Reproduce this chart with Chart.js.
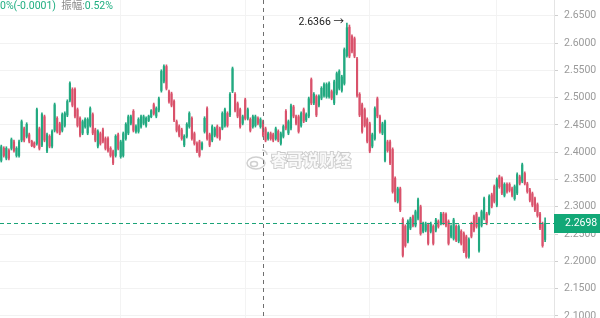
<!DOCTYPE html>
<html>
<head>
<meta charset="utf-8">
<script src="https://cdn.jsdelivr.net/npm/chart.js@4.4.1/dist/chart.umd.min.js"></script>
<style>
  html, body { margin: 0; padding: 0; background: #fff; }
  #wrap { width: 600px; height: 318px; }
</style>
</head>
<body>
<div id="wrap"><canvas id="kline" width="600" height="318"></canvas></div>
<script>
// candles, left to right
const opens = [
  2.385, 2.407, 2.389, 2.403, 2.407, 2.419, 2.394, 2.394, 2.422, 2.443,
  2.429, 2.432, 2.420, 2.417, 2.416, 2.443, 2.413, 2.465, 2.402, 2.429,
  2.411, 2.440, 2.462, 2.452, 2.440, 2.449, 2.468, 2.495, 2.515, 2.515,
  2.478, 2.462, 2.435, 2.447, 2.435, 2.449, 2.469, 2.441, 2.411, 2.434,
  2.441, 2.425, 2.425, 2.407, 2.401, 2.394, 2.432, 2.392, 2.394, 2.425,
  2.435, 2.453, 2.475, 2.438, 2.438, 2.447, 2.453, 2.449, 2.458, 2.465,
  2.487, 2.466, 2.477, 2.513, 2.530, 2.557, 2.511, 2.507, 2.493, 2.456,
  2.447, 2.441, 2.413, 2.429, 2.447, 2.462, 2.434, 2.416, 2.419, 2.407,
  2.438, 2.480, 2.432, 2.422, 2.431, 2.447, 2.443, 2.444, 2.449, 2.471,
  2.468, 2.512, 2.506, 2.489, 2.478, 2.453, 2.496, 2.462, 2.460, 2.447,
  2.449, 2.462, 2.447, 2.456, 2.443, 2.425, 2.434, 2.432, 2.425, 2.438,
  2.416, 2.429, 2.475, 2.435, 2.444, 2.483, 2.465, 2.465, 2.449, 2.478,
  2.459, 2.466, 2.533, 2.490, 2.502, 2.486, 2.499, 2.504, 2.502, 2.502,
  2.511, 2.490, 2.508, 2.517, 2.513, 2.526, 2.577, 2.629, 2.612, 2.608,
  2.571, 2.506, 2.487, 2.478, 2.460, 2.452, 2.411, 2.425, 2.498,
  2.465, 2.435, 2.385, 2.419, 2.419, 2.405, 2.352, 2.310, 2.333, 2.277,
  2.264, 2.237, 2.261, 2.282, 2.266, 2.279, 2.300, 2.255, 2.257, 2.267,
  2.255, 2.264, 2.257, 2.273, 2.270, 2.287, 2.286, 2.273,
  2.246, 2.242, 2.264, 2.237, 2.255, 2.251, 2.245, 2.209, 2.269, 2.282,
  2.287, 2.220, 2.266, 2.279, 2.287, 2.288, 2.322, 2.337, 2.303,
  2.355, 2.352, 2.321, 2.341, 2.341, 2.333, 2.315, 2.325, 2.355,
  2.347, 2.361, 2.342, 2.331, 2.324, 2.315, 2.304, 2.287, 2.269, 2.240
]
const highs = [
  2.413, 2.410, 2.410, 2.406, 2.426, 2.422, 2.410, 2.422, 2.459, 2.446,
  2.454, 2.435, 2.422, 2.419, 2.481, 2.446, 2.472, 2.468, 2.435, 2.432,
  2.441, 2.490, 2.465, 2.455, 2.472, 2.474, 2.496, 2.529, 2.518, 2.518,
  2.481, 2.465, 2.459, 2.463, 2.463, 2.483, 2.472, 2.444, 2.441, 2.437,
  2.444, 2.428, 2.428, 2.410, 2.404, 2.432, 2.435, 2.422, 2.437, 2.454,
  2.468, 2.468, 2.478, 2.450, 2.463, 2.468, 2.468, 2.465, 2.468, 2.478,
  2.490, 2.483, 2.501, 2.551, 2.560, 2.560, 2.514, 2.510, 2.496, 2.459,
  2.450, 2.444, 2.432, 2.454, 2.474, 2.465, 2.437, 2.419, 2.422, 2.419,
  2.465, 2.483, 2.435, 2.450, 2.446, 2.450, 2.446, 2.474, 2.481, 2.474,
  2.509, 2.556, 2.509, 2.492, 2.481, 2.468, 2.499, 2.481, 2.463, 2.468,
  2.468, 2.465, 2.463, 2.459, 2.446, 2.437, 2.437, 2.435, 2.446, 2.441,
  2.437, 2.450, 2.478, 2.459, 2.488, 2.486, 2.468, 2.468, 2.474, 2.481,
  2.472, 2.501, 2.536, 2.509, 2.505, 2.505, 2.520, 2.527, 2.527, 2.529,
  2.514, 2.532, 2.547, 2.551, 2.541, 2.591, 2.6366, 2.633, 2.615, 2.611,
  2.574, 2.509, 2.490, 2.481, 2.463, 2.455, 2.435, 2.483, 2.501,
  2.468, 2.455, 2.459, 2.422, 2.422, 2.408, 2.355, 2.336, 2.336, 2.280,
  2.267, 2.276, 2.281, 2.285, 2.294, 2.316, 2.303, 2.272, 2.272, 2.270,
  2.272, 2.267, 2.279, 2.276, 2.290, 2.290, 2.289, 2.276,
  2.267, 2.279, 2.267, 2.267, 2.258, 2.254, 2.248, 2.243, 2.272, 2.285,
  2.290, 2.281, 2.294, 2.318, 2.290, 2.322, 2.325, 2.340, 2.353,
  2.358, 2.355, 2.344, 2.344, 2.344, 2.336, 2.340, 2.362, 2.358,
  2.380, 2.364, 2.345, 2.334, 2.327, 2.318, 2.307, 2.290, 2.272, 2.280
]
const lows = [
  2.382, 2.391, 2.386, 2.386, 2.404, 2.400, 2.391, 2.391, 2.419, 2.419,
  2.426, 2.417, 2.410, 2.408, 2.413, 2.404, 2.410, 2.419, 2.399, 2.408,
  2.408, 2.437, 2.435, 2.432, 2.437, 2.446, 2.465, 2.492, 2.483, 2.463,
  2.446, 2.428, 2.432, 2.444, 2.432, 2.446, 2.432, 2.419, 2.408, 2.413,
  2.417, 2.404, 2.400, 2.391, 2.377, 2.391, 2.404, 2.389, 2.391, 2.422,
  2.432, 2.450, 2.437, 2.435, 2.435, 2.444, 2.450, 2.446, 2.456, 2.463,
  2.468, 2.463, 2.474, 2.510, 2.527, 2.514, 2.490, 2.483, 2.456, 2.437,
  2.428, 2.422, 2.410, 2.426, 2.444, 2.422, 2.413, 2.399, 2.391, 2.404,
  2.435, 2.422, 2.410, 2.419, 2.428, 2.426, 2.422, 2.441, 2.446, 2.446,
  2.465, 2.509, 2.474, 2.463, 2.444, 2.450, 2.459, 2.459, 2.437, 2.444,
  2.446, 2.450, 2.444, 2.428, 2.419, 2.422, 2.422, 2.419, 2.422, 2.419,
  2.413, 2.426, 2.441, 2.432, 2.441, 2.463, 2.450, 2.435, 2.446, 2.454,
  2.456, 2.463, 2.487, 2.487, 2.465, 2.483, 2.496, 2.501, 2.499, 2.499,
  2.496, 2.487, 2.505, 2.514, 2.510, 2.523, 2.574, 2.573, 2.582, 2.573,
  2.501, 2.465, 2.435, 2.446, 2.417, 2.399, 2.408, 2.422, 2.463,
  2.435, 2.432, 2.382, 2.400, 2.377, 2.325, 2.309, 2.307, 2.291, 2.208,
  2.226, 2.234, 2.258, 2.263, 2.263, 2.276, 2.248, 2.252, 2.254, 2.230,
  2.252, 2.230, 2.254, 2.261, 2.267, 2.267, 2.263, 2.230,
  2.243, 2.239, 2.236, 2.234, 2.230, 2.216, 2.206, 2.206, 2.243, 2.254,
  2.261, 2.217, 2.263, 2.276, 2.267, 2.285, 2.298, 2.307, 2.300,
  2.334, 2.322, 2.318, 2.325, 2.327, 2.318, 2.312, 2.322, 2.340,
  2.344, 2.340, 2.325, 2.309, 2.300, 2.291, 2.281, 2.258, 2.226, 2.236
]
const closes = [
  2.410, 2.394, 2.407, 2.389, 2.423, 2.403, 2.407, 2.419, 2.456, 2.422,
  2.451, 2.420, 2.412, 2.410, 2.478, 2.407, 2.469, 2.422, 2.432, 2.411,
  2.438, 2.487, 2.438, 2.435, 2.469, 2.471, 2.493, 2.526, 2.486, 2.466,
  2.449, 2.431, 2.456, 2.460, 2.460, 2.480, 2.435, 2.422, 2.438, 2.416,
  2.420, 2.407, 2.403, 2.394, 2.380, 2.429, 2.407, 2.419, 2.434, 2.451,
  2.465, 2.465, 2.440, 2.447, 2.460, 2.465, 2.465, 2.462, 2.466, 2.476,
  2.471, 2.480, 2.498, 2.548, 2.557, 2.517, 2.493, 2.486, 2.459, 2.440,
  2.431, 2.425, 2.429, 2.451, 2.471, 2.425, 2.416, 2.402, 2.394, 2.416,
  2.462, 2.425, 2.413, 2.447, 2.443, 2.429, 2.425, 2.471, 2.478, 2.449,
  2.506, 2.553, 2.477, 2.466, 2.447, 2.465, 2.462, 2.478, 2.440, 2.465,
  2.465, 2.453, 2.460, 2.431, 2.422, 2.434, 2.425, 2.422, 2.443, 2.422,
  2.434, 2.447, 2.444, 2.456, 2.485, 2.466, 2.453, 2.438, 2.471, 2.457,
  2.469, 2.498, 2.490, 2.506, 2.468, 2.502, 2.517, 2.524, 2.524, 2.526,
  2.499, 2.529, 2.544, 2.548, 2.538, 2.588, 2.628, 2.576, 2.585, 2.576,
  2.504, 2.468, 2.438, 2.449, 2.420, 2.402, 2.432, 2.480, 2.466,
  2.438, 2.452, 2.456, 2.403, 2.380, 2.328, 2.312, 2.333, 2.294, 2.211,
  2.229, 2.273, 2.278, 2.266, 2.291, 2.313, 2.251, 2.269, 2.269, 2.233,
  2.269, 2.233, 2.276, 2.264, 2.287, 2.270, 2.266, 2.233,
  2.264, 2.276, 2.239, 2.264, 2.233, 2.219, 2.209, 2.240, 2.246, 2.257,
  2.264, 2.278, 2.291, 2.315, 2.270, 2.319, 2.301, 2.310, 2.350,
  2.337, 2.325, 2.341, 2.328, 2.330, 2.321, 2.337, 2.359, 2.343,
  2.377, 2.343, 2.328, 2.312, 2.303, 2.294, 2.284, 2.261, 2.229, 2.2698
]

// bar slots: one per candle, plus a few empty ones before the price axis
const emptySlots = 3
const categories = opens.map((_, i) => String(i + 1)).concat(Array(emptySlots).fill(''))

const yTicks = [2.10, 2.15, 2.20, 2.25, 2.30, 2.35, 2.40, 2.45, 2.50, 2.55, 2.60, 2.65]
const xGridAt = [47, 96, 145, 195]

const lastPrice = 2.2698
const hoverIndex = 103
const header = [
  ['0%(-0.0001)', '#1fae80'],
  ['  振幅:', '#8a8a8a'],
  ['0.52%', '#1fae80'],
]
const watermark = '睿哥说财经'

const upColor = '#22a980'
const downColor = '#d9526b'

const candleColors = opens.map((o, i) => closes[i] >= o ? upColor : downColor)
const wicks = lows.map((l, i) => [l, highs[i]])
const bodies = opens.map((o, i) => [o, closes[i]])

const font = 'Roboto, "Noto Sans CJK SC", sans-serif'

const overlay = {
    id: 'overlay',
    afterDatasetsDraw(chart) {
        const {ctx, chartArea, scales: {x, y}} = chart
        ctx.save()

        // hover crosshair
        const cx = Math.round(x.getPixelForValue(hoverIndex)) + 0.5
        ctx.strokeStyle = '#6f6f6f'
        ctx.lineWidth = 1
        ctx.setLineDash([4, 4])
        ctx.beginPath()
        ctx.moveTo(cx, 0)
        ctx.lineTo(cx, chart.height)
        ctx.stroke()

        // last price line
        const py = Math.round(y.getPixelForValue(lastPrice)) + 0.5
        ctx.strokeStyle = '#1aa377'
        ctx.setLineDash([4, 3])
        ctx.beginPath()
        ctx.moveTo(chartArea.left, py)
        ctx.lineTo(chartArea.right, py)
        ctx.stroke()
        ctx.restore()
    },
    afterDraw(chart) {
        const {ctx, chartArea, scales: {x, y}} = chart
        ctx.save()

        // last price tag on the axis
        const py = y.getPixelForValue(lastPrice)
        ctx.fillStyle = '#12a877'
        ctx.fillRect(chartArea.right, Math.round(py) - 9, chart.width - chartArea.right, 19)
        ctx.fillStyle = '#ffffff'
        ctx.font = '10.5px ' + font
        ctx.textBaseline = 'middle'
        ctx.textAlign = 'left'
        ctx.fillText(lastPrice.toFixed(4), chartArea.right + 11, Math.round(py) + 0.5)

        // highest price marker
        const top = Math.max(...highs)
        const ti = highs.indexOf(top)
        ctx.fillStyle = '#222'
        ctx.textAlign = 'right'
        ctx.fillText(top.toFixed(4) + ' →', x.getPixelForValue(ti) - 3, y.getPixelForValue(top) - 1)

        // header line
        ctx.textAlign = 'left'
        ctx.font = '10.5px ' + font
        let hx = 0
        header.forEach(([text, color]) => {
            ctx.fillStyle = color
            ctx.fillText(text, hx, 6)
            hx += ctx.measureText(text).width
        })

        // watermark
        ctx.font = 'bold 16px "Noto Sans CJK SC", sans-serif'
        ctx.lineWidth = 2
        ctx.strokeStyle = 'rgba(150,150,150,0.45)'
        ctx.fillStyle = 'rgba(255,255,255,0.9)'
        ctx.strokeText(watermark, 271, 160)
        ctx.fillText(watermark, 271, 160)
        ctx.lineWidth = 1.5
        ctx.beginPath()
        ctx.ellipse(256, 163, 9, 6, 0, 0, Math.PI * 2)
        ctx.stroke()
        ctx.beginPath()
        ctx.ellipse(254, 164, 3.5, 2.5, 0, 0, Math.PI * 2)
        ctx.stroke()
        ctx.beginPath()
        ctx.arc(262, 155, 5, -Math.PI / 2, 0)
        ctx.stroke()
        ctx.restore()
    }
}

new Chart(document.getElementById('kline'), {
    type: 'bar',
    data: {
        labels: categories,
        datasets: [
            {data: wicks, backgroundColor: candleColors, barThickness: 1, grouped: false},
            {data: bodies, backgroundColor: candleColors, barThickness: 1.5, grouped: false},
        ]
    },
    options: {
        responsive: false,
        animation: false,
        layout: {padding: 0},
        plugins: {legend: {display: false}, tooltip: {enabled: false}},
        scales: {
            x: {
                offset: true,
                ticks: {display: false},
                grid: {offset: false, drawTicks: false, color: '#f3f3f3'},
                border: {display: false},
                afterBuildTicks: s => { s.ticks = xGridAt.map(v => ({value: v})) },
                afterFit: s => { s.height = 0; s.paddingLeft = 0; s.paddingRight = 0 },
            },
            y: {
                position: 'right',
                min: 2.0963,
                max: 2.6788,
                afterBuildTicks: s => { s.ticks = yTicks.map(v => ({value: v})) },
                afterFit: s => { s.width = 46; s.paddingTop = 0; s.paddingBottom = 0 },
                grid: {color: '#f2f2f2', tickColor: '#cfcfcf', tickLength: 4},
                border: {color: '#e4e4e4'},
                ticks: {
                    color: '#9a9a9a',
                    padding: 6,
                    font: {size: 10.5, family: font},
                    callback: v => v.toFixed(4),
                },
            },
        },
    },
    plugins: [overlay],
})
</script>
</body>
</html>
